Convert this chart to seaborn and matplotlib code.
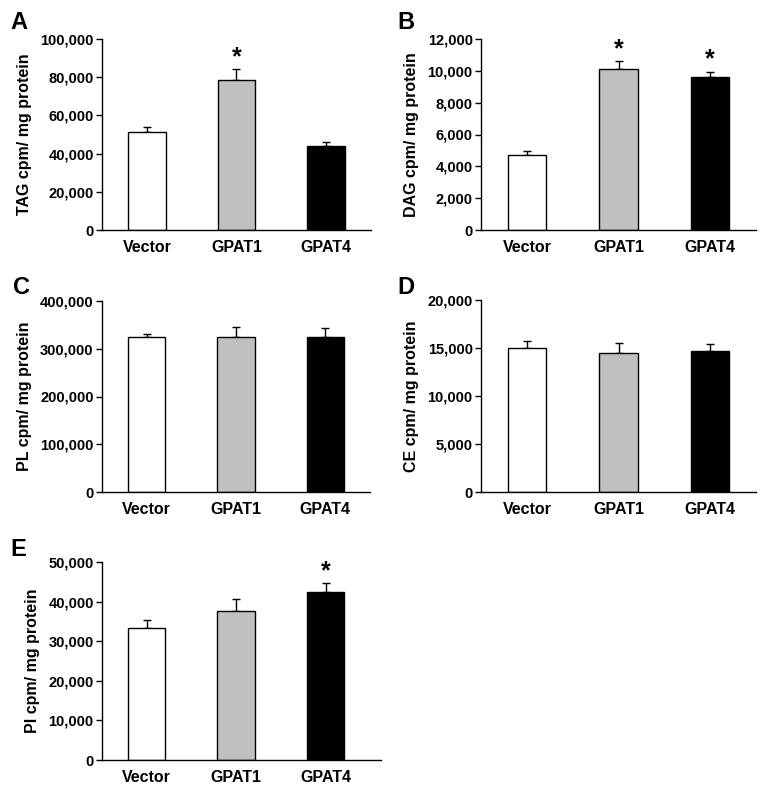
import numpy as np
import pandas as pd
import matplotlib
matplotlib.use("Agg")
import matplotlib.pyplot as plt
import seaborn as sns
from matplotlib.ticker import FuncFormatter

# groups and bar colours
groups = ["Vector", "GPAT1", "GPAT4"]
bar_colors = ["white", "#c0c0c0", "black"]

# values (mean, upper error)
tag_vals = [51500, 78700, 44000]
tag_err = [2650, 5600, 2300]
dag_vals = [4700, 10100, 9640]
dag_err = [240, 500, 300]
pl_vals = [324500, 324500, 325200]
pl_err = [5500, 20900, 17500]
ce_vals = [15035, 14450, 14725]
ce_err = [665, 1110, 725]
pi_vals = [33450, 37650, 42450]
pi_err = [1930, 2950, 2250]

# which bars carry an asterisk
tag_sig = [False, True, False]
dag_sig = [False, True, True]
pl_sig = [False, False, False]
ce_sig = [False, False, False]
pi_sig = [False, False, True]

sns.set_style("ticks")
plt.rcParams["font.family"] = ["Liberation Sans", "DejaVu Sans"]
plt.rcParams["font.weight"] = "bold"
for k in ["text.color", "axes.labelcolor", "xtick.color", "ytick.color", "axes.edgecolor"]:
    plt.rcParams[k] = "black"

W, H = 768, 798
fig = plt.figure(figsize=(W / 100, H / 100), dpi=100)


def add_panel(left, top, right, bottom, letter, lx, ly):
    ax = fig.add_axes([left / W, 1 - bottom / H, (right - left) / W, (bottom - top) / H])
    fig.text(lx / W, 1 - ly / H, letter, fontsize=17, fontweight="bold", ha="left", va="top")
    return ax


def draw_panel(ax, vals, errs, sig, ylabel, ymax, step, xright=2.5):
    df = pd.DataFrame({"group": groups, "value": vals})
    sns.barplot(data=df, x="group", y="value", hue="group", palette=bar_colors,
                edgecolor="black", linewidth=1, width=0.42, legend=False,
                errorbar=None, ax=ax, zorder=2)
    x = np.arange(len(groups))
    ax.errorbar(x, vals, yerr=[np.zeros(len(vals)), errs], fmt="none",
                ecolor="black", elinewidth=1, capsize=3, capthick=1, zorder=1)
    for xi, v, e, s in zip(x, vals, errs, sig):
        if s:
            ax.annotate("*", xy=(xi, v + e), xytext=(0, 0), textcoords="offset points",
                        ha="center", va="bottom", fontsize=18, fontweight="bold")
    ax.set_ylim(0, ymax)
    ax.set_xlim(-0.5, xright)
    ax.set_yticks(np.arange(0, ymax + 1, step))
    ax.yaxis.set_major_formatter(FuncFormatter(lambda v, p: f"{int(v):,}"))
    ax.set_xlabel("")
    ax.set_ylabel(ylabel, fontsize=11.5, fontweight="bold", labelpad=6)
    ax.tick_params(axis="x", length=0, pad=7, labelsize=11.5)
    ax.tick_params(axis="y", length=4, width=1, pad=2, labelsize=10.5, direction="out")
    for lab in ax.get_xticklabels() + ax.get_yticklabels():
        lab.set_fontweight("bold")
    sns.despine(ax=ax)
    ax.spines["left"].set_linewidth(1)
    ax.spines["bottom"].set_linewidth(1)


axA = add_panel(102, 39, 371, 230, "A", 10, 11)
draw_panel(axA, tag_vals, tag_err, tag_sig, "TAG cpm/ mg protein", 100000, 20000)

axB = add_panel(481, 39, 756, 230, "B", 397, 11)
draw_panel(axB, dag_vals, dag_err, dag_sig, "DAG cpm/ mg protein", 12000, 2000)

axC = add_panel(102, 301, 370, 492, "C", 13, 276)
draw_panel(axC, pl_vals, pl_err, pl_sig, "PL cpm/ mg protein", 400000, 100000)

axD = add_panel(481, 300, 756, 492, "D", 397, 276)
draw_panel(axD, ce_vals, ce_err, ce_sig, "CE cpm/ mg protein", 20000, 5000)

axE = add_panel(102, 562, 381, 760, "E", 10, 538)
draw_panel(axE, pi_vals, pi_err, pi_sig, "PI cpm/ mg protein", 50000, 10000, xright=2.62)

fig.savefig("out.png", dpi=100)
